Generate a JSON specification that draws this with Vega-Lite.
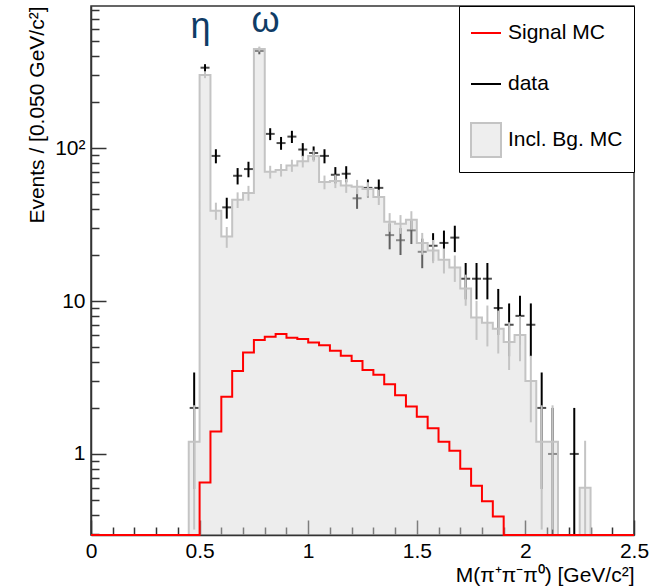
{
  "$schema": "https://vega.github.io/schema/vega-lite/v6.json",
  "width": 543,
  "height": 529,
  "autosize": {"type": "none"},
  "padding": {"left": 91, "top": 6, "right": 28, "bottom": 52},
  "config": {
    "font": "Liberation Sans",
    "view": {"stroke": "#333333", "strokeWidth": 1.5},
    "axis": {"grid": false, "labelFont": "Liberation Sans", "titleFont": "Liberation Sans", "labelColor": "#000000", "titleColor": "#000000", "titleFontWeight": "normal", "labelFontSize": 21, "titleFontSize": 21, "domainColor": "#333333", "domainWidth": 1.5, "tickColor": "#333333", "tickWidth": 1.5, "labelOverlap": false, "labelFlush": false, "labelBound": false}
  },
  "resolve": {"axis": {"x": "independent", "y": "independent"}},
  "datasets": {
    "bins": [
      {"x": 0.00, "sig": 0, "bg": 0}, {"x": 0.05, "sig": 0, "bg": 0}, {"x": 0.10, "sig": 0, "bg": 0},
      {"x": 0.15, "sig": 0, "bg": 0}, {"x": 0.20, "sig": 0, "bg": 0}, {"x": 0.25, "sig": 0, "bg": 0},
      {"x": 0.30, "sig": 0, "bg": 0}, {"x": 0.35, "sig": 0, "bg": 0}, {"x": 0.40, "sig": 0, "bg": 0},
      {"x": 0.45, "sig": 0, "bg": 1.2}, {"x": 0.50, "sig": 0.65, "bg": 301}, {"x": 0.55, "sig": 1.40, "bg": 39},
      {"x": 0.60, "sig": 2.37, "bg": 26.4}, {"x": 0.65, "sig": 3.49, "bg": 46}, {"x": 0.70, "sig": 4.60, "bg": 51},
      {"x": 0.75, "sig": 5.57, "bg": 445}, {"x": 0.80, "sig": 5.85, "bg": 70}, {"x": 0.85, "sig": 6.09, "bg": 72},
      {"x": 0.90, "sig": 5.76, "bg": 77}, {"x": 0.95, "sig": 5.65, "bg": 82}, {"x": 1.00, "sig": 5.35, "bg": 89},
      {"x": 1.05, "sig": 5.14, "bg": 60}, {"x": 1.10, "sig": 4.74, "bg": 61}, {"x": 1.15, "sig": 4.38, "bg": 57},
      {"x": 1.20, "sig": 4.06, "bg": 56}, {"x": 1.25, "sig": 3.54, "bg": 54}, {"x": 1.30, "sig": 3.29, "bg": 48},
      {"x": 1.35, "sig": 2.86, "bg": 33}, {"x": 1.40, "sig": 2.42, "bg": 32}, {"x": 1.45, "sig": 2.04, "bg": 34},
      {"x": 1.50, "sig": 1.75, "bg": 24}, {"x": 1.55, "sig": 1.47, "bg": 21.4}, {"x": 1.60, "sig": 1.20, "bg": 18.6},
      {"x": 1.65, "sig": 1.05, "bg": 16.6}, {"x": 1.70, "sig": 0.80, "bg": 12.1}, {"x": 1.75, "sig": 0.62, "bg": 7.8},
      {"x": 1.80, "sig": 0.49, "bg": 7.2}, {"x": 1.85, "sig": 0.39, "bg": 6.6}, {"x": 1.90, "sig": 0, "bg": 5.4},
      {"x": 1.95, "sig": 0, "bg": 6.0}, {"x": 2.00, "sig": 0, "bg": 3.0}, {"x": 2.05, "sig": 0, "bg": 1.2},
      {"x": 2.10, "sig": 0, "bg": 1.2}, {"x": 2.15, "sig": 0, "bg": 0}, {"x": 2.20, "sig": 0, "bg": 0},
      {"x": 2.25, "sig": 0, "bg": 0.6}, {"x": 2.30, "sig": 0, "bg": 0}, {"x": 2.35, "sig": 0, "bg": 0},
      {"x": 2.40, "sig": 0, "bg": 0}, {"x": 2.45, "sig": 0, "bg": 0}, {"x": 2.50, "sig": 0, "bg": 0}
    ],
    "mcerr": [
      {"x": 0.475, "lo": 0.32, "hi": 2.08}, {"x": 0.525, "lo": 287, "hi": 315}, {"x": 0.575, "lo": 34, "hi": 44},
      {"x": 0.625, "lo": 22.3, "hi": 30.5}, {"x": 0.675, "lo": 40.6, "hi": 51.4}, {"x": 0.725, "lo": 45.3, "hi": 56.7},
      {"x": 0.775, "lo": 428, "hi": 462}, {"x": 0.825, "lo": 63.3, "hi": 76.7}, {"x": 0.875, "lo": 65.2, "hi": 78.8},
      {"x": 0.925, "lo": 70.0, "hi": 84.0}, {"x": 0.975, "lo": 74.8, "hi": 89.2}, {"x": 1.025, "lo": 81.5, "hi": 96.5},
      {"x": 1.075, "lo": 53.8, "hi": 66.2}, {"x": 1.125, "lo": 54.8, "hi": 67.2}, {"x": 1.175, "lo": 51.0, "hi": 63.0},
      {"x": 1.225, "lo": 50.0, "hi": 62.0}, {"x": 1.275, "lo": 48.1, "hi": 59.9}, {"x": 1.325, "lo": 42.5, "hi": 53.5},
      {"x": 1.375, "lo": 28.4, "hi": 37.6}, {"x": 1.425, "lo": 27.5, "hi": 36.5}, {"x": 1.475, "lo": 29.3, "hi": 38.7},
      {"x": 1.525, "lo": 20.1, "hi": 27.9}, {"x": 1.575, "lo": 17.7, "hi": 25.1}, {"x": 1.625, "lo": 15.15, "hi": 22.05},
      {"x": 1.675, "lo": 13.34, "hi": 19.86}, {"x": 1.725, "lo": 9.32, "hi": 14.88}, {"x": 1.775, "lo": 5.57, "hi": 10.03},
      {"x": 1.825, "lo": 5.05, "hi": 9.35}, {"x": 1.875, "lo": 4.54, "hi": 8.66}, {"x": 1.925, "lo": 3.54, "hi": 7.26},
      {"x": 1.975, "lo": 4.04, "hi": 7.96}, {"x": 2.025, "lo": 1.61, "hi": 4.39}, {"x": 2.075, "lo": 0.32, "hi": 2.08},
      {"x": 2.125, "lo": 0.32, "hi": 2.08}, {"x": 2.275, "lo": 0, "hi": 1.22}
    ],
    "points": [
      {"x": 0.475, "n": 2, "lo": 0.59, "hi": 3.41}, {"x": 0.525, "n": 336, "lo": 317.7, "hi": 354.3},
      {"x": 0.575, "n": 89, "lo": 79.6, "hi": 98.4}, {"x": 0.625, "n": 41, "lo": 34.6, "hi": 47.4},
      {"x": 0.675, "n": 66, "lo": 57.9, "hi": 74.1}, {"x": 0.725, "n": 73, "lo": 64.5, "hi": 81.5},
      {"x": 0.775, "n": 432, "lo": 411.2, "hi": 452.8}, {"x": 0.825, "n": 124, "lo": 112.9, "hi": 135.1},
      {"x": 0.875, "n": 108, "lo": 97.6, "hi": 118.4}, {"x": 0.925, "n": 119, "lo": 108.1, "hi": 129.9},
      {"x": 0.975, "n": 98, "lo": 88.1, "hi": 107.9}, {"x": 1.025, "n": 93, "lo": 83.4, "hi": 102.6},
      {"x": 1.075, "n": 89, "lo": 79.6, "hi": 98.4}, {"x": 1.125, "n": 67, "lo": 58.8, "hi": 75.2},
      {"x": 1.175, "n": 68, "lo": 59.8, "hi": 76.2}, {"x": 1.225, "n": 47, "lo": 40.1, "hi": 53.9},
      {"x": 1.275, "n": 55, "lo": 47.6, "hi": 62.4}, {"x": 1.325, "n": 55, "lo": 47.6, "hi": 62.4},
      {"x": 1.375, "n": 27, "lo": 21.8, "hi": 32.2}, {"x": 1.425, "n": 25, "lo": 20, "hi": 30},
      {"x": 1.475, "n": 29, "lo": 23.6, "hi": 34.4}, {"x": 1.525, "n": 21, "lo": 16.4, "hi": 25.6},
      {"x": 1.575, "n": 23, "lo": 18.2, "hi": 27.8}, {"x": 1.625, "n": 24, "lo": 19.1, "hi": 28.9},
      {"x": 1.675, "n": 26, "lo": 20.9, "hi": 31.1}, {"x": 1.725, "n": 14, "lo": 10.26, "hi": 17.74},
      {"x": 1.775, "n": 14, "lo": 10.26, "hi": 17.74}, {"x": 1.825, "n": 14, "lo": 10.26, "hi": 17.74},
      {"x": 1.875, "n": 9, "lo": 6, "hi": 12}, {"x": 1.925, "n": 7, "lo": 4.35, "hi": 9.65},
      {"x": 1.975, "n": 8, "lo": 5.17, "hi": 10.83}, {"x": 2.025, "n": 7, "lo": 4.35, "hi": 9.65},
      {"x": 2.075, "n": 2, "lo": 0.59, "hi": 3.41}, {"x": 2.125, "n": 1, "lo": 0, "hi": 2},
      {"x": 2.225, "n": 1, "lo": 0, "hi": 2}
    ],
    "peaks": [
      {"x": 0.5045, "y": 526, "name": "η"},
      {"x": 0.8034, "y": 575, "name": "ω"}
    ]
  },
  "layer": [
    {
      "data": {"name": "points"},
      "mark": {"type": "rule", "color": "#000000", "strokeWidth": 2},
      "encoding": {
        "x": {
          "field": "x", "type": "quantitative",
          "scale": {"domain": [0, 2.5], "nice": false, "zero": false},
          "axis": {
            "orient": "bottom",
            "values": [0, 0.5, 1, 1.5, 2, 2.5],
            "labelExpr": "'' + datum.value",
            "tickSize": -15,
            "labelPadding": 20,
            "title": "M(π⁺π⁻π⁰) [GeV/c²]",
            "titleAnchor": "end", "titleAlign": "right", "titleBaseline": "alphabetic",
            "titleX": 543, "titleY": 46
          }
        },
        "y": {
          "field": "lo", "type": "quantitative",
          "scale": {"type": "log", "domain": [0.295, 851], "clamp": true, "nice": false},
          "axis": {
            "orient": "left",
            "values": [1, 10, 100],
            "labelExpr": "datum.value == 1 ? '1' : datum.value == 10 ? '10' : '10²'",
            "tickSize": -15,
            "labelPadding": 21,
            "title": "Events / [0.050 GeV/c²]",
            "titleAnchor": "end", "titleAlign": "right", "titleBaseline": "alphabetic", "titleAngle": -90,
            "titleX": -48, "titleY": 0
          }
        },
        "y2": {"field": "hi"}
      }
    },
    {
      "data": {"name": "points"},
      "mark": {"type": "tick", "orient": "horizontal", "color": "#000000", "size": 9, "thickness": 2},
      "encoding": {
        "x": {
          "field": "x", "type": "quantitative",
          "axis": {
            "orient": "bottom",
            "values": [0.1, 0.2, 0.3, 0.4, 0.6, 0.7, 0.8, 0.9, 1.1, 1.2, 1.3, 1.4, 1.6, 1.7, 1.8, 1.9, 2.1, 2.2, 2.3, 2.4],
            "tickSize": -8, "labels": false, "domain": false, "title": null
          }
        },
        "y": {
          "field": "n", "type": "quantitative",
          "axis": {
            "orient": "left",
            "values": [0.3, 0.4, 0.5, 0.6, 0.7, 0.8, 0.9, 2, 3, 4, 5, 6, 7, 8, 9, 20, 30, 40, 50, 60, 70, 80, 90, 200, 300, 400, 500, 600, 700, 800],
            "tickSize": -8, "labels": false, "domain": false, "title": null
          }
        }
      }
    },
    {
      "data": {"name": "bins"},
      "mark": {"type": "area", "interpolate": "step-after", "color": "#d8d8d8", "fillOpacity": 0.45},
      "encoding": {
        "x": {"field": "x", "type": "quantitative", "axis": null},
        "y": {"field": "bg", "type": "quantitative", "stack": null, "axis": null}
      }
    },
    {
      "data": {"name": "bins"},
      "mark": {"type": "line", "interpolate": "step-after", "color": "#c4c4c4", "strokeWidth": 2},
      "encoding": {
        "x": {"field": "x", "type": "quantitative", "axis": null},
        "y": {"field": "bg", "type": "quantitative", "axis": null}
      }
    },
    {
      "data": {"name": "mcerr"},
      "mark": {"type": "rule", "color": "#c4c4c4", "strokeWidth": 2},
      "encoding": {
        "x": {"field": "x", "type": "quantitative", "axis": null},
        "y": {"field": "lo", "type": "quantitative", "axis": null},
        "y2": {"field": "hi"}
      }
    },
    {
      "data": {"name": "bins"},
      "mark": {"type": "line", "interpolate": "step-after", "strokeWidth": 2},
      "encoding": {
        "x": {"field": "x", "type": "quantitative", "axis": null},
        "y": {"field": "sig", "type": "quantitative", "axis": null},
        "color": {
          "datum": "Signal MC", "type": "nominal",
          "scale": {"domain": ["Signal MC", "data", "Incl. Bg. MC"], "range": ["#ff0000", "#000000", "#c4c4c4"]},
          "legend": {
            "title": null, "orient": "top-right", "offset": 0, "padding": 11, "rowPadding": 25,
            "fillColor": "#ffffff", "strokeColor": "#000000",
            "labelFont": "Liberation Sans", "labelFontSize": 21, "labelColor": "#000000", "labelOffset": 6, "labelLimit": 300,
            "symbolType": "stroke", "symbolSize": 900, "symbolStrokeWidth": 2,
            "encode": {
              "symbols": {
                "update": {
                  "shape": {"signal": "datum.value === 'Incl. Bg. MC' ? 'M-1,-1.13H1V1.13H-1Z' : 'stroke'"},
                  "fill": {"signal": "datum.value === 'Incl. Bg. MC' ? '#eeeeee' : 'transparent'"},
                  "stroke": {"signal": "datum.value === 'Incl. Bg. MC' ? '#c4c4c4' : (datum.value === 'data' ? '#000000' : '#ff0000')"},
                  "strokeWidth": {"value": 2}
                }
              }
            }
          }
        }
      }
    },
    {
      "data": {"name": "peaks"},
      "mark": {"type": "text", "font": "Liberation Sans", "fontSize": 36, "color": "#0f3c66", "align": "center", "baseline": "alphabetic"},
      "encoding": {
        "x": {"field": "x", "type": "quantitative", "axis": null},
        "y": {"field": "y", "type": "quantitative", "axis": null},
        "text": {"field": "name"}
      }
    }
  ]
}
